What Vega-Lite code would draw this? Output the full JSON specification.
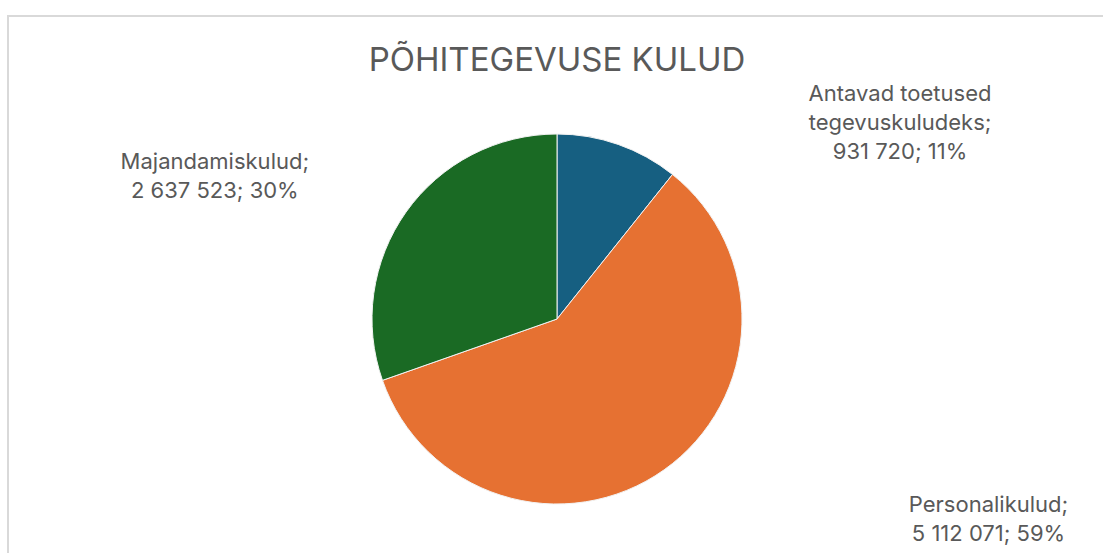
{
  "$schema": "https://vega.github.io/schema/vega-lite/v6.json",
  "autosize": {"type": "fit", "contains": "padding"},
  "width": 1103,
  "height": 553,
  "padding": {"left": 7, "top": 10, "right": -4, "bottom": -70},
  "background": "white",
  "config": {"view": {"stroke": null}},
  "title": {
    "text": "PÕHITEGEVUSE KULUD",
    "font": "Inter",
    "fontSize": 33,
    "fontWeight": "normal",
    "color": "#595959",
    "anchor": "middle",
    "frame": "group",
    "offset": -63
  },
  "datasets": {
    "costs": [
      {"cat": "Antavad toetused tegevuskuludeks", "value": 931720, "ord": 1, "label": "Antavad toetused\ntegevuskuludeks;\n931 720; 11%"},
      {"cat": "Personalikulud", "value": 5112071, "ord": 2, "label": "Personalikulud;\n5 112 071; 59%"},
      {"cat": "Majandamiskulud", "value": 2637523, "ord": 3, "label": "Majandamiskulud;\n2 637 523; 30%"}
    ],
    "frame": [{"frame": "border"}]
  },
  "data": {"name": "costs"},
  "layer": [
    {
      "data": {"name": "frame"},
      "mark": {"type": "rect", "fill": "transparent", "stroke": "#d9d9d9", "strokeWidth": 2},
      "encoding": {}
    },
    {
      "mark": {"type": "arc", "outerRadius": 185, "stroke": "#f2f2f2", "strokeWidth": 1},
      "encoding": {
        "theta": {"field": "value", "type": "quantitative", "stack": true},
        "order": {"field": "ord", "type": "quantitative"},
        "color": {
          "field": "cat",
          "type": "nominal",
          "scale": {
            "domain": ["Antavad toetused tegevuskuludeks", "Personalikulud", "Majandamiskulud"],
            "range": ["#165F81", "#E67132", "#1A6A24"]
          },
          "legend": null
        }
      }
    },
    {
      "mark": {"type": "text", "radius": 260, "font": "Inter", "fontSize": 22, "color": "#595959", "lineBreak": "\n", "lineHeight": 29, "align": "center", "baseline": "middle", "dx": 257, "dy": 20},
      "encoding": {
        "theta": {"field": "value", "type": "quantitative", "stack": true},
        "order": {"field": "ord", "type": "quantitative"},
        "text": {"condition": {"test": "datum.ord === 1", "field": "label"}, "value": ""}
      }
    },
    {
      "mark": {"type": "text", "radius": 260, "font": "Inter", "fontSize": 22, "color": "#595959", "lineBreak": "\n", "lineHeight": 29, "align": "center", "baseline": "middle", "dx": 281, "dy": -26},
      "encoding": {
        "theta": {"field": "value", "type": "quantitative", "stack": true},
        "order": {"field": "ord", "type": "quantitative"},
        "text": {"condition": {"test": "datum.ord === 2", "field": "label"}, "value": ""}
      }
    },
    {
      "mark": {"type": "text", "radius": 260, "font": "Inter", "fontSize": 22, "color": "#595959", "lineBreak": "\n", "lineHeight": 29, "align": "center", "baseline": "middle", "dx": -130, "dy": -7},
      "encoding": {
        "theta": {"field": "value", "type": "quantitative", "stack": true},
        "order": {"field": "ord", "type": "quantitative"},
        "text": {"condition": {"test": "datum.ord === 3", "field": "label"}, "value": ""}
      }
    }
  ]
}
